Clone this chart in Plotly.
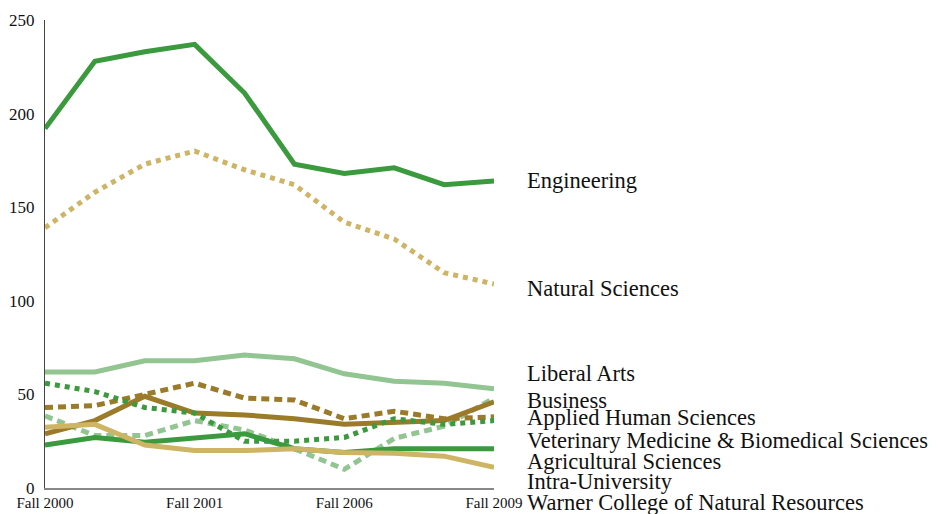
import plotly.graph_objects as go

# x positions are the ten fall terms; only four of them carry a label
x_idx = list(range(10))
tick_pos = [0, 3, 6, 9]
tick_text = ["Fall 2000", "Fall 2001", "Fall 2006", "Fall 2009"]

engineering = [192, 228, 233, 237, 211, 173, 168, 171, 162, 164]
natural_sciences = [139, 158, 173, 180, 170, 162, 142, 133, 115, 109]
liberal_arts = [62, 62, 68, 68, 71, 69, 61, 57, 56, 53]
business = [38.5, 28, 28, 36, 31, 21, 10, 26.5, 33, 48]
applied_human = [29, 36, 49, 40, 39, 37, 34, 35, 36, 46]
vet_med = [43, 44, 50, 56, 48, 47, 37, 41, 37, 38]
agricultural = [56, 51.5, 43, 40, 25, 25, 27, 37, 34, 36]
intra_univ = [23, 27, 24.5, 27, 29, 21, 19, 21, 21, 21]
warner = [32.5, 34, 23, 20, 20, 21, 19, 18.5, 17, 11]

names = ["Engineering", "Natural Sciences", "Liberal Arts", "Business",
         "Applied Human Sciences", "Veterinary Medicine & Biomedical Sciences",
         "Agricultural Sciences", "Intra-University", "Warner College of Natural Resources"]
series = [engineering, natural_sciences, liberal_arts, business, applied_human,
          vet_med, agricultural, intra_univ, warner]

DKGREEN = "#3a9a3d"
TAN = "#cdb565"
BROWN = "#9b7a2a"
LTGREEN = "#92c592"

styles = [
    (DKGREEN, "solid", 5),
    (TAN, "dot", 5),
    (LTGREEN, "solid", 5),
    (LTGREEN, "8px,5px", 5),
    (BROWN, "solid", 5),
    (BROWN, "8px,5px", 5),
    (DKGREEN, "dot", 5),
    (DKGREEN, "solid", 5),
    (TAN, "solid", 5),
]

# where the right-hand labels sit, in y units (spread so they do not collide)
label_y = [164, 106.5, 61, 47, 37.4, 25.2, 14, 3.3, -7.5]
Y_MAX = 250

FONT = "Liberation Serif"

fig = go.Figure()
for name, vals, (col, dash, w) in zip(names, series, styles):
    fig.add_trace(go.Scatter(x=x_idx, y=vals, mode="lines", name=name,
                             line=dict(color=col, width=w, dash=dash)))

# paper coords so the lowest label is not hidden below the axis range
for name, ly in zip(names, label_y):
    fig.add_annotation(x=1.07, xref="paper", y=ly / Y_MAX, yref="paper", text=name,
                       showarrow=False, xanchor="left", yanchor="middle",
                       font=dict(family=FONT, size=22.5, color="#111"))

# page body adds 8px, so margins are 8px smaller than the picture's offsets
fig.update_layout(
    width=940, height=514,
    margin=dict(l=37, r=454, t=12, b=34),
    paper_bgcolor="white", plot_bgcolor="white",
    showlegend=False,
    font=dict(family=FONT, color="#111"),
)
fig.update_xaxes(range=[0, 9], tickvals=tick_pos, ticktext=tick_text,
                 showgrid=False, zeroline=False, showline=True,
                 linecolor="#888", linewidth=2, ticks="",
                 tickfont=dict(family=FONT, size=15), automargin=False)
fig.update_yaxes(range=[0, Y_MAX], dtick=50, showgrid=False, zeroline=False,
                 showline=True, linecolor="#444", linewidth=1, ticks="",
                 ticklabelstandoff=6,
                 tickfont=dict(family=FONT, size=17), automargin=False)

fig.write_html("out.html")
